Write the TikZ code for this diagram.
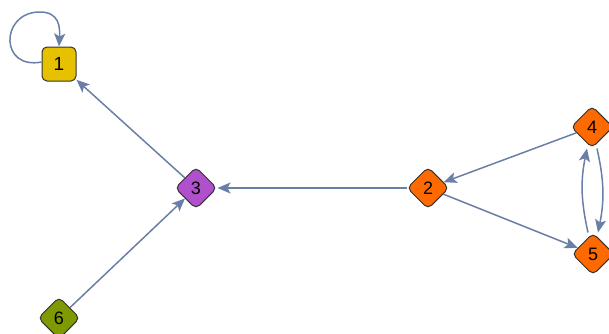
\documentclass[tikz,border=0pt]{standalone}
\usepackage{fontspec}
\setmainfont{Liberation Sans}
\usetikzlibrary{shapes.geometric,arrows.meta}
\definecolor{edgec}{HTML}{6A7FA6}
\definecolor{yel}{HTML}{E6C100}
\definecolor{pur}{HTML}{B150CC}
\definecolor{ora}{HTML}{FF6A00}
\definecolor{oli}{HTML}{7D9A00}
\begin{document}
\begin{tikzpicture}[x=1pt,y=-1pt,
  sq/.style={draw=black!80, line width=1pt, rectangle, rounded corners=5pt, minimum size=34pt, inner sep=0pt, font=\fontsize{19}{19}\selectfont},
  dm/.style={draw=black!80, line width=1pt, diamond, aspect=1, rounded corners=5pt, minimum size=42pt, inner sep=0pt, font=\fontsize{18}{18}\selectfont},
  ed/.style={draw=edgec, line width=1.5pt, -{Stealth[length=13pt,width=11pt,inset=3pt]}}]
\useasboundingbox (0,0) rectangle (609,333);
\node[sq, fill=yel] (n1) at (59,64) {1};
\node[dm, fill=pur] (n3) at (196,188) {3};
\node[dm, fill=ora] (n2) at (428,188) {2};
\node[dm, fill=ora] (n4) at (592,127) {4};
\node[dm, fill=ora] (n5) at (593,254) {5};
\node[dm, fill=oli] (n6) at (59,318) {6};
\draw[ed] (n3) -- (n1);
\draw[ed] (n2) -- (n3);
\draw[ed] (n4) -- (n2);
\draw[ed] (n2) -- (n5);
\draw[ed] (n6) -- (n3);
\draw[ed] ([xshift=5pt]n4.south) to[bend left=12] ([xshift=5pt]n5.north);
\draw[ed] ([xshift=-5pt]n5.north) to[bend left=12] ([xshift=-5pt]n4.south);
\draw[ed] ([yshift=2pt]n1.west) .. controls (0,70) and (0,14) .. (38,12) .. controls (60,11) and (60,28) .. (n1.north);
\end{tikzpicture}
\end{document}
